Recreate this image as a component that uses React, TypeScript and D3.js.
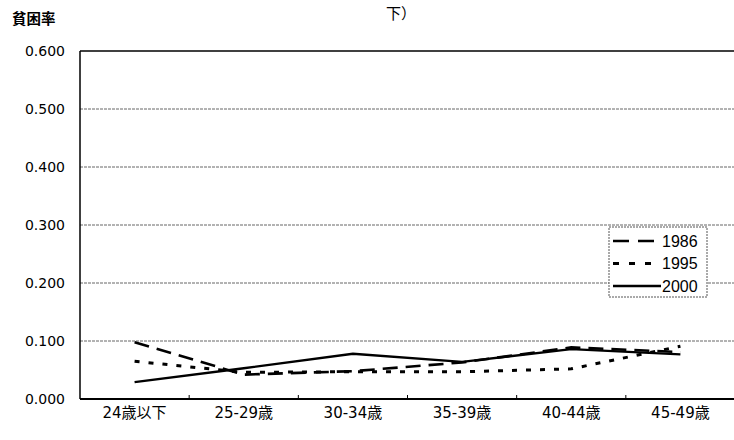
import React from 'react';
import * as d3 from 'd3';

const categories = ['24歳以下', '25-29歳', '30-34歳', '35-39歳', '40-44歳', '45-49歳'];
const series1986 = [0.098, 0.042, 0.048, 0.063, 0.089, 0.081];
const series1995 = [0.065, 0.046, 0.047, 0.047, 0.052, 0.091];
const series2000 = [0.029, 0.053, 0.078, 0.064, 0.086, 0.077];
const yTicks = [0, 0.1, 0.2, 0.3, 0.4, 0.5, 0.6];

const W = 734;
const H = 440;
const margin = { left: 80, top: 51, right: 735, bottom: 399 };
const font = '"Liberation Sans", Arial, "Noto Sans CJK JP", sans-serif';
const wideFont = '"DejaVu Sans", "Noto Sans CJK JP", sans-serif';

const seriesList = [
  { name: '1986', values: series1986, dash: '15 8', legendDash: '16 9', width: 2.6 },
  { name: '1995', values: series1995, dash: '5 9', legendDash: '6 10', width: 3 },
  { name: '2000', values: series2000, dash: null, legendDash: null, width: 2.4 },
];

export default function App() {
  const x = d3.scalePoint<string>().domain(categories).range([margin.left, margin.right]).padding(0.5);
  const y = d3.scaleLinear().domain([0, 0.6]).range([margin.bottom, margin.top]);
  const step = x.step();

  const line = d3.line<number>()
    .x((_, i) => x(categories[i]) as number)
    .y((d) => y(d));

  const legendX = 609;
  const legendY = 227;

  return (
    <div style={{ position: 'absolute', left: 0, top: 0 }}>
      <svg width={W} height={H} style={{ display: 'block', background: '#fff' }}>
        {/* title fragment cut at top */}
        <text x={386} y={19} fontFamily={font} fontSize={15} fill="#000">下）</text>
        <text x={12} y={24} fontFamily={font} fontSize={14.5} fontWeight="bold" fill="#000">貧困率</text>

        {/* gridlines */}
        {yTicks.slice(1, -1).map((t) => (
          <line key={t} x1={margin.left} x2={margin.right} y1={y(t)} y2={y(t)}
            stroke="#666" strokeWidth={1} strokeDasharray="3 1" />
        ))}
        {/* frame */}
        <line x1={margin.left} x2={margin.right} y1={margin.top} y2={margin.top} stroke="#000" strokeWidth={1.5} />
        <line x1={margin.left} x2={margin.left} y1={margin.top} y2={margin.bottom} stroke="#000" strokeWidth={1.5} />
        <line x1={margin.left} x2={margin.right} y1={margin.bottom} y2={margin.bottom} stroke="#000" strokeWidth={1.8} />

        {/* x ticks */}
        {categories.map((c, i) => (
          <line key={'t' + i} x1={(x(c) as number) + step / 2} x2={(x(c) as number) + step / 2}
            y1={margin.bottom - 4} y2={margin.bottom} stroke="#000" strokeWidth={1} />
        ))}

        {/* y labels */}
        {yTicks.map((t) => (
          <text key={t} x={65} y={y(t) + 5} textAnchor="end" fontFamily={wideFont} fontSize={14} fill="#000">
            {t.toFixed(3)}
          </text>
        ))}

        {/* x labels */}
        {categories.map((c) => (
          <text key={c} x={x(c) as number} y={418} textAnchor="middle" fontFamily={wideFont} fontSize={15} fill="#000">
            {c}
          </text>
        ))}

        {/* series */}
        {seriesList.map((s) => (
          <path key={s.name} d={line(s.values) ?? ''} fill="none" stroke="#000"
            strokeWidth={s.width} strokeDasharray={s.dash ?? undefined} />
        ))}

        {/* legend */}
        <rect x={legendX} y={legendY} width={98} height={70} fill="#fff" stroke="#555" strokeWidth={1} strokeDasharray="2 1" />
        {seriesList.map((s, i) => {
          const ly = legendY + 14 + i * 22.5;
          return (
            <g key={'l' + s.name}>
              <line x1={legendX + 4} x2={legendX + 52} y1={ly} y2={ly} stroke="#000"
                strokeWidth={s.width} strokeDasharray={s.legendDash ?? undefined} />
              <text x={legendX + 53} y={ly + 5.5} fontFamily={font} fontSize={16} fill="#000">{s.name}</text>
            </g>
          );
        })}
      </svg>
    </div>
  );
}
